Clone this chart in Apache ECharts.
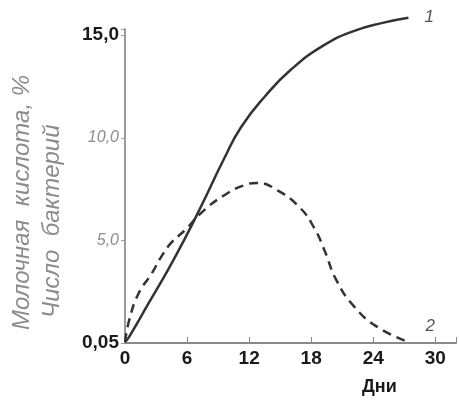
<!DOCTYPE html>
<html>
<head>
<meta charset="utf-8">
<script src="https://cdn.jsdelivr.net/npm/echarts@6/dist/echarts.min.js"></script>
<style>
  html, body { margin: 0; padding: 0; background: #fff; }
  #chart { width: 459px; height: 408px; }
</style>
</head>
<body>
<div id="chart"></div>
<script>
// дни (ось X) и значения кривых
var days1 = [0, 0.4, 2.3, 4.2, 5.8, 7.3, 9.6, 11.2, 13.5, 16.0, 19.2, 22.1, 24.9, 27.4];
var curve1 = [0.05, 0.3, 1.95, 3.6, 5.1, 6.6, 9.0, 10.5, 12.0, 13.3, 14.5, 15.2, 15.6, 15.85];

var days2 = [0, 0.4, 1.3, 2.6, 3.5, 4.5, 5.8, 7.5, 9.6, 11.6, 12.8, 14.7, 16.9, 18.3, 19.3, 20.4, 22.2, 24.5, 27.4];
var curve2 = [0.05, 1.1, 2.4, 3.4, 4.2, 4.9, 5.5, 6.4, 7.2, 7.7, 7.8, 7.45, 6.6, 5.6, 4.5, 3.1, 1.75, 0.75, 0.05];

var xTicks = [0, 6, 12, 18, 24, 30];
var yTickValues = [0, 5, 10, 15];
var yTickLabels = ['0,05', '5,0', '10,0', '15,0'];

function pairs(xs, ys) {
  var out = [];
  for (var i = 0; i < xs.length; i++) {
    out.push([xs[i], ys[i]]);
  }
  return out;
}

var chart = echarts.init(document.getElementById('chart'));

var fontFam = '"Liberation Sans", Arial, sans-serif';

var option = {
  animation: false,
  grid: { left: 125, right: 0, top: 29, bottom: 65 },
  xAxis: {
    type: 'value',
    min: 0,
    max: 32,
    interval: 6,
    axisLine: { lineStyle: { color: '#8a8a8a', width: 2 } },
    axisTick: { inside: true, length: 6, lineStyle: { color: '#8a8a8a' } },
    splitLine: { show: false },
    axisLabel: {
      color: '#1a1a1a',
      fontSize: 19,
      fontWeight: 'bold',
      fontFamily: fontFam,
      margin: 6,
      formatter: function (v) {
        return xTicks.indexOf(v) >= 0 ? String(v) : '';
      }
    }
  },
  yAxis: {
    type: 'value',
    min: 0,
    max: 15.3,
    interval: 5,
    axisLine: { show: true, lineStyle: { color: '#9a9a9a', width: 2 } },
    axisTick: { show: true, length: 4, lineStyle: { color: '#9a9a9a' } },
    splitLine: { show: false },
    axisLabel: {
      margin: 6,
      formatter: function (v) {
        var i = yTickValues.indexOf(v);
        if (i < 0) return '';
        if (i === 0 || i === 3) return '{b|' + yTickLabels[i] + '}';
        return '{f|' + yTickLabels[i] + '}';
      },
      rich: {
        b: { color: '#1a1a1a', fontSize: 19, fontWeight: 'bold', fontFamily: fontFam },
        f: { color: '#8c8c8c', fontSize: 16, fontStyle: 'italic', fontFamily: fontFam }
      }
    }
  },
  graphic: [
    {
      type: 'text',
      left: 362, top: 378,
      style: { text: 'Дни', fill: '#1a1a1a', font: 'bold 18px ' + fontFam }
    },
    {
      type: 'text',
      x: 10, y: 330,
      rotation: Math.PI / 2,
      style: {
        text: 'Молочная  кислота, %',
        fill: '#8c8c8c',
        font: 'italic 24px ' + fontFam,
        textAlign: 'left',
        textVerticalAlign: 'top'
      }
    },
    {
      type: 'text',
      x: 40, y: 318,
      rotation: Math.PI / 2,
      style: {
        text: 'Число  бактерий',
        fill: '#8c8c8c',
        font: 'italic 24px ' + fontFam,
        textAlign: 'left',
        textVerticalAlign: 'top'
      }
    }
  ],
  series: [
    {
      name: '1',
      type: 'line',
      smooth: 0.5,
      clip: false,
      showSymbol: false,
      data: pairs(days1, curve1),
      lineStyle: { color: '#333', width: 2.5 },
      endLabel: {
        show: true,
        formatter: '{a}',
        color: '#555',
        fontSize: 17,
        fontStyle: 'italic',
        fontFamily: fontFam,
        offset: [8, 0]
      }
    },
    {
      name: '2',
      type: 'line',
      smooth: 0.5,
      clip: false,
      showSymbol: false,
      data: pairs(days2, curve2),
      lineStyle: { color: '#333', width: 2.5, type: [9, 6] },
      endLabel: {
        show: true,
        formatter: '{a}',
        color: '#555',
        fontSize: 17,
        fontStyle: 'italic',
        fontFamily: fontFam,
        offset: [9, -16]
      }
    }
  ]
};

chart.setOption(option);
</script>
</body>
</html>
